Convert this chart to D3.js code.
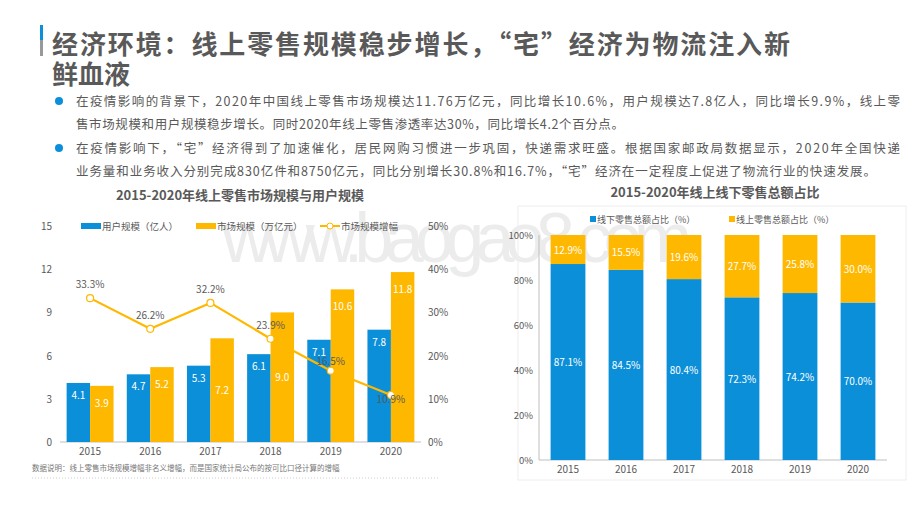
<!DOCTYPE html>
<meta charset="utf-8">
<style>
    body { margin: 0; background: #fff; }
    svg { font-family: "Noto Sans CJK SC", "Noto Sans", sans-serif; }
</style>
<svg id="chart" width="920" height="518"></svg>
<script src="https://d3js.org/d3.v7.min.js"></script>
<script>
    // data
    const years = ["2015", "2016", "2017", "2018", "2019", "2020"];
    const users = [4.1, 4.7, 5.3, 6.1, 7.1, 7.8];
    const market = [3.9, 5.2, 7.2, 9.0, 10.6, 11.8];
    const growth = [33.3, 26.2, 32.2, 23.9, 16.5, 10.9];
    const offline = [87.1, 84.5, 80.4, 72.3, 74.2, 70.0];
    const online = [12.9, 15.5, 19.6, 27.7, 25.8, 30.0];
    const leftTicks = [0, 3, 6, 9, 12, 15];
    const rightTicks = [0, 10, 20, 30, 40, 50];
    const shareTicks = [0, 20, 40, 60, 80, 100];

    const blue = "#0b8fd9", orange = "#ffb800", grey = "#595959";
    const svg = d3.select("#chart");

    // watermark
    svg.append("text").attr("x", 222).attr("y", 262)
        .attr("font-family", "Liberation Sans, sans-serif").attr("font-size", 70)
        .attr("textLength", 470).attr("fill", "#ececec").text("www.baogao8.com");

    // header
    svg.append("rect").attr("x", 40).attr("y", 25).attr("width", 3).attr("height", 15).attr("fill", blue);
    svg.append("rect").attr("x", 40).attr("y", 40).attr("width", 3).attr("height", 16).attr("fill", "#999");
    const title = svg.append("text").attr("fill", grey).attr("font-size", 26).attr("font-weight", "bold");
    title.append("tspan").attr("x", 52).attr("y", 54).attr("textLength", 738).text("经济环境：线上零售规模稳步增长，“宅”经济为物流注入新");
    title.append("tspan").attr("x", 52).attr("y", 84).text("鲜血液");

    const para = [
        ["在疫情影响的背景下，2020年中国线上零售市场规模达11.76万亿元，同比增长10.6%，用户规模达7.8亿人，同比增长9.9%，线上零", "售市场规模和用户规模稳步增长。同时2020年线上零售渗透率达30%，同比增长4.2个百分点。"],
        ["在疫情影响下，“宅”经济得到了加速催化，居民网购习惯进一步巩固，快递需求旺盛。根据国家邮政局数据显示，2020年全国快递", "业务量和业务收入分别完成830亿件和8750亿元，同比分别增长30.8%和16.7%，“宅”经济在一定程度上促进了物流行业的快速发展。"]
    ];
    para.forEach((p, i) => {
        const y0 = 106 + i * 47;
        svg.append("circle").attr("cx", 59).attr("cy", y0 - 5).attr("r", 4).attr("fill", blue);
        p.forEach((line, j) => {
            svg.append("text").attr("x", 76).attr("y", y0 + j * 23).attr("font-size", 12.5)
                .attr("fill", grey).attr("textLength", j === 0 ? 824 : (i === 0 ? 548 : 800)).text(line);
        });
    });

    // ---------- left chart ----------
    svg.append("text").attr("x", 240).attr("y", 200).attr("text-anchor", "middle")
        .attr("font-size", 13).attr("font-weight", "bold").attr("fill", grey)
        .text("2015-2020年线上零售市场规模与用户规模");

    const x1 = d3.scaleBand().domain(years).range([60, 421]).paddingInner(0.22).paddingOuter(0.11);
    const y1 = d3.scaleLinear().domain([0, 15]).range([442, 226]);
    const y2 = d3.scaleLinear().domain([0, 50]).range([442, 226]);
    const bw = x1.bandwidth() / 2;

    svg.append("line").attr("x1", 60).attr("x2", 421).attr("y1", 442).attr("y2", 442).attr("stroke", "#bfbfbf");
    svg.append("g").selectAll("text").data(leftTicks).join("text")
        .attr("x", 52).attr("y", d => y1(d) + 4).attr("text-anchor", "end")
        .attr("font-size", 10).attr("fill", grey).text(d => d);
    svg.append("g").selectAll("text").data(rightTicks).join("text")
        .attr("x", 428).attr("y", d => y2(d) + 4)
        .attr("font-size", 10).attr("fill", grey).text(d => d + "%");
    svg.append("g").selectAll("text").data(years).join("text")
        .attr("x", d => x1(d) + bw).attr("y", 455).attr("text-anchor", "middle")
        .attr("font-size", 10).attr("fill", grey).text(d => d);

    const g1 = svg.append("g");
    g1.selectAll(".u").data(users).join("rect")
        .attr("x", (d, i) => x1(years[i])).attr("y", d => y1(d))
        .attr("width", bw).attr("height", d => 442 - y1(d)).attr("fill", blue);
    g1.selectAll(".m").data(market).join("rect").attr("class", "m")
        .attr("x", (d, i) => x1(years[i]) + bw).attr("y", d => y1(d))
        .attr("width", bw).attr("height", d => 442 - y1(d)).attr("fill", orange);
    g1.selectAll(".ul").data(users).join("text").attr("class", "ul")
        .attr("x", (d, i) => x1(years[i]) + bw / 2).attr("y", d => y1(d) + 16)
        .attr("text-anchor", "middle").attr("font-size", 10).attr("fill", "#fff").text(d => d.toFixed(1));
    g1.selectAll(".ml").data(market).join("text").attr("class", "ml")
        .attr("x", (d, i) => x1(years[i]) + bw * 1.5)
        .attr("y", (d, i) => (i === 2 || i === 3) ? (y1(d) + 442) / 2 + 4 : y1(d) + 21)
        .attr("text-anchor", "middle").attr("font-size", 10).attr("fill", "#fff").text(d => d.toFixed(1));

    const line = d3.line().x((d, i) => x1(years[i]) + bw).y(d => y2(d));
    g1.append("path").datum(growth).attr("d", line).attr("fill", "none")
        .attr("stroke", orange).attr("stroke-width", 2.2);
    g1.selectAll(".gp").data(growth).join("circle").attr("class", "gp")
        .attr("cx", (d, i) => x1(years[i]) + bw).attr("cy", d => y2(d)).attr("r", 3.5)
        .attr("fill", "#fff").attr("stroke", orange).attr("stroke-width", 1.2);
    g1.selectAll(".gl").data(growth).join("text").attr("class", "gl")
        .attr("x", (d, i) => x1(years[i]) + bw).attr("y", (d, i) => y2(d) + (i >= 4 ? -6 : -10))
        .attr("dy", (d, i) => i === 5 ? 14 : 0)
        .attr("text-anchor", "middle").attr("font-size", 10).attr("fill", grey).text(d => d + "%");

    // left legend
    const lg = svg.append("g").attr("font-size", 9.5).attr("fill", grey);
    lg.append("rect").attr("x", 81).attr("y", 223).attr("width", 20).attr("height", 6).attr("fill", blue);
    lg.append("text").attr("x", 102).attr("y", 230).text("用户规模（亿人）");
    lg.append("rect").attr("x", 196).attr("y", 223).attr("width", 20).attr("height", 6).attr("fill", orange);
    lg.append("text").attr("x", 217).attr("y", 230).text("市场规模（万亿元）");
    lg.append("line").attr("x1", 320).attr("x2", 340).attr("y1", 226).attr("y2", 226).attr("stroke", orange).attr("stroke-width", 2);
    lg.append("circle").attr("cx", 330).attr("cy", 226).attr("r", 3).attr("fill", "#fff").attr("stroke", orange);
    lg.append("text").attr("x", 341).attr("y", 230).text("市场规模增幅");

    svg.append("text").attr("x", 32).attr("y", 471).attr("font-size", 7.5).attr("fill", "#777")
        .text("数据说明：线上零售市场规模增幅非名义增幅，而是国家统计局公布的按可比口径计算的增幅");
    svg.append("line").attr("x1", 32).attr("x2", 440).attr("y1", 478).attr("y2", 478)
        .attr("stroke", "#ccc").attr("stroke-dasharray", "1,2");

    // ---------- right chart ----------
    svg.append("rect").attr("x", 518).attr("y", 206).attr("width", 388).attr("height", 274)
        .attr("fill", "none").attr("stroke", "#eee");
    svg.append("text").attr("x", 715).attr("y", 197).attr("text-anchor", "middle")
        .attr("font-size", 13).attr("font-weight", "bold").attr("fill", grey)
        .text("2015-2020年线上线下零售总额占比");

    const x3 = d3.scaleBand().domain(years).range([539, 887]).paddingInner(0.4).paddingOuter(0.2);
    const y3 = d3.scaleLinear().domain([0, 100]).range([460, 235]);

    svg.append("line").attr("x1", 539).attr("x2", 539).attr("y1", 235).attr("y2", 460).attr("stroke", "#bfbfbf");
    svg.append("line").attr("x1", 539).attr("x2", 887).attr("y1", 460).attr("y2", 460).attr("stroke", "#bfbfbf");
    svg.append("g").selectAll("text").data(shareTicks).join("text")
        .attr("x", 533).attr("y", d => y3(d) + 4).attr("text-anchor", "end")
        .attr("font-size", 9.5).attr("fill", grey).text(d => d + "%");
    svg.append("g").selectAll("text").data(years).join("text")
        .attr("x", d => x3(d) + x3.bandwidth() / 2).attr("y", 473).attr("text-anchor", "middle")
        .attr("font-size", 10).attr("fill", grey).text(d => d);

    const g3 = svg.append("g");
    g3.selectAll(".off").data(offline).join("rect").attr("class", "off")
        .attr("x", (d, i) => x3(years[i])).attr("y", d => y3(d))
        .attr("width", x3.bandwidth()).attr("height", d => 460 - y3(d)).attr("fill", blue);
    g3.selectAll(".on").data(online).join("rect").attr("class", "on")
        .attr("x", (d, i) => x3(years[i])).attr("y", d => y3(100))
        .attr("width", x3.bandwidth()).attr("height", (d, i) => y3(offline[i]) - y3(100)).attr("fill", orange);
    g3.selectAll(".offl").data(offline).join("text").attr("class", "offl")
        .attr("x", (d, i) => x3(years[i]) + x3.bandwidth() / 2).attr("y", d => y3(d / 2) + 4)
        .attr("text-anchor", "middle").attr("font-size", 10).attr("fill", "#fff").text(d => d.toFixed(1) + "%");
    g3.selectAll(".onl").data(online).join("text").attr("class", "onl")
        .attr("x", (d, i) => x3(years[i]) + x3.bandwidth() / 2).attr("y", (d, i) => y3(100 - d / 2) + 4)
        .attr("text-anchor", "middle").attr("font-size", 10).attr("fill", "#fff").text(d => d.toFixed(1) + "%");

    const rg = svg.append("g").attr("font-size", 9).attr("fill", grey);
    rg.append("rect").attr("x", 590).attr("y", 216).attr("width", 6).attr("height", 6).attr("fill", blue);
    rg.append("text").attr("x", 597).attr("y", 223).text("线下零售总额占比（%）");
    rg.append("rect").attr("x", 729).attr("y", 216).attr("width", 6).attr("height", 6).attr("fill", orange);
    rg.append("text").attr("x", 736).attr("y", 223).text("线上零售总额占比（%）");
</script>
